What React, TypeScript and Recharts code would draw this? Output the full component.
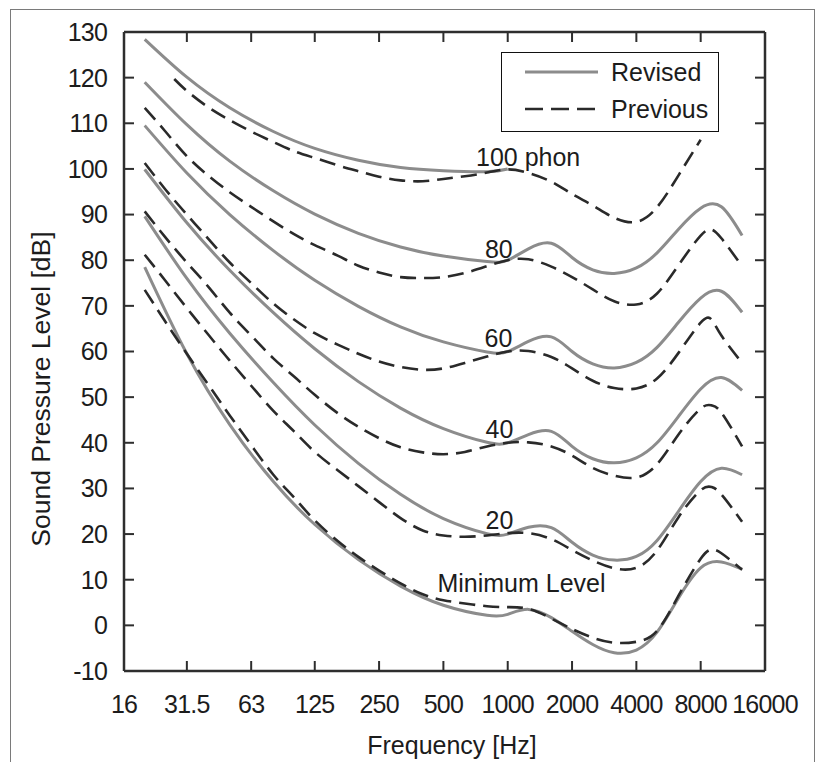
import React from 'react';
import {
  LineChart, Line, XAxis, YAxis, ReferenceLine, ReferenceDot, Legend, Label,
} from 'recharts';

// ---------- tick labels ----------
const FREQ_TICKS = [16, 31.5, 63, 125, 250, 500, 1000, 2000, 4000, 8000, 16000];
const DB_TICKS = [-10, 0, 10, 20, 30, 40, 50, 60, 70, 80, 90, 100, 110, 120, 130];

// ---------- revised (solid) ----------
const REV_FREQS = [20, 31.5, 50, 80, 125, 200, 315, 500, 800, 1000, 1250, 1600, 2000, 2500, 3150, 4000, 5000, 6300, 8000, 10000, 12500];
const REV_MIN = [78.5, 59.5, 44.0, 31.5, 22.1, 14.4, 8.6, 4.4, 2.2, 2.4, 3.5, 1.7, -1.3, -4.2, -6.0, -5.4, -1.5, 6.0, 12.6, 13.9, 12.3];
const REV_20 = [89.6, 76.0, 64.0, 53.2, 43.9, 35.5, 28.7, 23.4, 20.1, 20.0, 21.5, 21.4, 18.2, 15.4, 14.3, 15.1, 18.6, 25.0, 31.5, 34.4, 33.0];
const REV_40 = [99.9, 88.2, 77.8, 68.5, 60.6, 53.4, 47.6, 43.1, 40.1, 40.0, 41.8, 42.5, 39.2, 36.5, 35.6, 36.7, 40.0, 45.8, 51.8, 54.3, 51.5];
const REV_60 = [109.5, 99.1, 90.0, 82.1, 75.6, 69.9, 65.4, 62.1, 59.9, 60.0, 62.2, 63.2, 60.0, 57.3, 56.4, 57.6, 60.9, 66.4, 71.7, 73.2, 68.6];
const REV_80 = [119.0, 109.7, 101.7, 95.2, 90.1, 85.9, 82.9, 80.9, 79.7, 80.0, 82.5, 83.7, 80.6, 77.9, 77.1, 78.3, 81.6, 86.8, 91.4, 91.7, 85.4];
const REV_100 = [128.4, 120.1, 113.4, 108.2, 104.5, 101.9, 100.3, 99.6, 99.4, 100.0];

// ---------- previous (dashed) ----------
const PREV_FREQS = [20, 25, 31.5, 40, 50, 63, 80, 100, 125, 160, 200, 250, 315, 400, 500, 630, 800, 1000, 1250, 1600, 2000, 2500, 3150, 4000, 5000, 6300, 8000, 9000, 10000, 12500];
const PREV_MIN = [73.5, 66.5, 59.5, 52.5, 46, 39.5, 33, 28, 23, 18.5, 15, 12, 9.2, 6.8, 5.5, 4.8, 4.2, 4.0, 3.6, 1.5, -0.8, -2.7, -3.8, -3.6, -1.2, 6.5, 14.6, 16.6, 15.8, 12.2];
const PREV_20 = [81.2, 75.5, 69.5, 63.5, 58, 52.5, 47, 42.5, 38, 34, 30.5, 27, 23.5, 20.8, 19.7, 19.4, 19.7, 20.2, 20.2, 18.9, 16.5, 14.2, 12.5, 12.6, 16.4, 23.7, 29.6, 30.3, 28.7, 22.7];
const PREV_40 = [90.7, 85, 79.5, 74, 68.5, 63.5, 58.5, 54.5, 50.5, 46.5, 43.5, 41, 39, 37.9, 37.5, 38, 39.2, 40, 40.1, 39.2, 37.2, 34.5, 32.8, 32.4, 35.3, 41.8, 47.5, 48.2, 46.6, 39.2];
const PREV_60 = [101.3, 95.5, 90, 84.5, 79.5, 75, 70.5, 67, 64, 61.5, 59.5, 57.8, 56.6, 56.0, 56.3, 57.5, 58.9, 60, 60.1, 58.8, 56.3, 53.6, 52.0, 51.9, 54.1, 59.7, 66.3, 67, 63.5, 57.5];
const PREV_80 = [113.4, 108.2, 102.8, 98.4, 94.9, 91.7, 88.5, 85.7, 83.3, 81.0, 78.8, 77.3, 76.3, 76.1, 76.3, 77.2, 78.7, 80.0, 80.2, 78.6, 76.3, 73.6, 71.0, 70.3, 72.7, 78.9, 85.4, 86.7, 84.8, 78.7];
const PREV_100_FREQS = [27.5, 31.5, 40, 50, 63, 80, 100, 125, 160, 200, 250, 315, 400, 500, 630, 800, 1000, 1250, 1600, 2000, 2500, 3150, 4000, 5000, 6300, 8000];
const PREV_100 = [119.7, 117.1, 113.4, 110.7, 108.2, 105.9, 103.9, 102.4, 100.8, 99.5, 98.3, 97.5, 97.3, 97.8, 98.4, 99.2, 99.9, 99.1, 97.2, 94.5, 92.0, 89.3, 88.4, 91.6, 98.6, 106.4];

// ---------- curve labels ----------
const CURVE_LABEL_TEXT = ['100 phon', '80', '60', '40', '20', 'Minimum Level'];
const CURVE_LABEL_FREQ = [1246, 909, 905, 915, 915, 1160];
const CURVE_LABEL_DB = [102.5, 82.5, 63.0, 42.9, 23.1, 9.3];

const zip = (fs: number[], vs: number[]) => fs.map((f, i) => ({ f, v: vs[i] }));

const revisedSeries = [
  { name: 'rMin', data: zip(REV_FREQS, REV_MIN) },
  { name: 'r20', data: zip(REV_FREQS, REV_20) },
  { name: 'r40', data: zip(REV_FREQS, REV_40) },
  { name: 'r60', data: zip(REV_FREQS, REV_60) },
  { name: 'r80', data: zip(REV_FREQS, REV_80) },
  { name: 'r100', data: zip(REV_FREQS.slice(0, REV_100.length), REV_100) },
];
const previousSeries = [
  { name: 'pMin', data: zip(PREV_FREQS, PREV_MIN) },
  { name: 'p20', data: zip(PREV_FREQS, PREV_20) },
  { name: 'p40', data: zip(PREV_FREQS, PREV_40) },
  { name: 'p60', data: zip(PREV_FREQS, PREV_60) },
  { name: 'p80', data: zip(PREV_FREQS, PREV_80) },
  { name: 'p100', data: zip(PREV_100_FREQS, PREV_100) },
];

// ---------- layout / style ----------
const W = 821;
const H = 762;
const PLOT = { left: 124, right: 765, top: 32, bottom: 671 };
const TICK_LEN = 10;
const AXIS_COLOR = '#2e2e2e';
const TEXT_COLOR = '#1c1c1c';
const FONT = 25;
const TICK_SPACING = -0.8;
const REV_COLOR = '#8c8c8c';
const PREV_COLOR = '#2a2a2a';
const DASH = '16 8';

const XTick = (props: any) => {
  const { x, payload } = props;
  return (
    <g>
      <line x1={x} x2={x} y1={PLOT.bottom} y2={PLOT.bottom - TICK_LEN} stroke={AXIS_COLOR} strokeWidth={2} />
      <line x1={x} x2={x} y1={PLOT.top} y2={PLOT.top + TICK_LEN} stroke={AXIS_COLOR} strokeWidth={2} />
      <text x={x} y={PLOT.bottom + 24} dy="0.71em" textAnchor="middle" fontSize={FONT} letterSpacing={TICK_SPACING} fill={TEXT_COLOR}>
        {String(payload.value)}
      </text>
    </g>
  );
};

const YTick = (props: any) => {
  const { y, payload } = props;
  return (
    <g>
      <line x1={PLOT.left} x2={PLOT.left + TICK_LEN} y1={y} y2={y} stroke={AXIS_COLOR} strokeWidth={2} />
      <line x1={PLOT.right} x2={PLOT.right - TICK_LEN} y1={y} y2={y} stroke={AXIS_COLOR} strokeWidth={2} />
      <text x={PLOT.left - 17} y={y} dy="0.355em" textAnchor="end" fontSize={FONT} letterSpacing={TICK_SPACING} fill={TEXT_COLOR}>
        {payload.value}
      </text>
    </g>
  );
};

const LegendBox = () => (
  <div style={{ width: 218, height: 80, boxSizing: 'border-box', border: '1.5px solid #111', background: '#fff' }}>
    <svg width={215} height={77} style={{ display: 'block' }}>
      <line x1={23} x2={96} y1={19} y2={19} stroke={REV_COLOR} strokeWidth={3} />
      <line x1={23} x2={96} y1={56} y2={56} stroke={PREV_COLOR} strokeWidth={2.6} strokeDasharray="18 8" />
      <text x={109} y={19} dy="0.355em" fontSize={FONT} fill={TEXT_COLOR}>Revised</text>
      <text x={109} y={56} dy="0.355em" fontSize={FONT} fill={TEXT_COLOR}>Previous</text>
    </svg>
  </div>
);

const YTitle = () => {
  const cx = 41;
  const cy = 389;
  return (
    <text x={cx} y={cy} dy="0.355em" transform={`rotate(-90 ${cx} ${cy})`} textAnchor="middle" fontSize={26.5} fill={TEXT_COLOR}>
      Sound Pressure Level [dB]
    </text>
  );
};

const XTitle = () => (
  <text x={452} y={754} textAnchor="middle" fontSize={FONT} fill={TEXT_COLOR}>
    Frequency [Hz]
  </text>
);

export default function App() {
  return (
    <div style={{ position: 'absolute', left: 0, top: 0, width: W, height: H, overflow: 'hidden', background: '#fff', fontFamily: "'Liberation Sans', Arial, sans-serif" }}>
      <div style={{ position: 'absolute', left: 10, top: 9, width: 805, height: 800, boxSizing: 'border-box', border: '1.5px solid #7a7a7a' }} />
      <div style={{ position: 'absolute', left: 0, top: 0 }}>
        <LineChart width={W} height={H} margin={{ top: PLOT.top, right: W - PLOT.right, bottom: 0, left: 0 }}>
          <XAxis
            type="number"
            dataKey="f"
            scale="log"
            domain={[16, 16000]}
            ticks={FREQ_TICKS}
            allowDataOverflow
            interval={0}
            height={H - PLOT.bottom}
            tickSize={0}
            tick={<XTick />}
            axisLine={{ stroke: AXIS_COLOR, strokeWidth: 2.5 }}
          >
            <Label content={<XTitle />} />
          </XAxis>
          <YAxis
            type="number"
            domain={[-10, 130]}
            ticks={DB_TICKS}
            interval={0}
            width={PLOT.left}
            tickSize={0}
            tick={<YTick />}
            axisLine={{ stroke: AXIS_COLOR, strokeWidth: 2.5 }}
          >
            <Label content={<YTitle />} />
          </YAxis>
          <ReferenceLine y={130} stroke={AXIS_COLOR} strokeWidth={2.5} />
          <ReferenceLine x={16000} stroke={AXIS_COLOR} strokeWidth={2.5} />
          {revisedSeries.map((s) => (
            <Line key={s.name} data={s.data} dataKey="v" type="natural" stroke={REV_COLOR} strokeWidth={3} dot={false} activeDot={false} isAnimationActive={false} />
          ))}
          {previousSeries.map((s) => (
            <Line key={s.name} data={s.data} dataKey="v" type="natural" stroke={PREV_COLOR} strokeWidth={2.6} strokeDasharray={DASH} dot={false} activeDot={false} isAnimationActive={false} />
          ))}
          {CURVE_LABEL_TEXT.map((t, i) => (
            <ReferenceDot
              key={t}
              x={CURVE_LABEL_FREQ[i]}
              y={CURVE_LABEL_DB[i]}
              r={0}
              fill="none"
              stroke="none"
              label={{ value: t, position: 'center', fontSize: FONT, fill: TEXT_COLOR }}
            />
          ))}
          <Legend
            layout="horizontal"
            verticalAlign="middle"
            align="center"
            wrapperStyle={{ left: 501, top: 52, width: 218, height: 80 }}
            content={() => <LegendBox />}
          />
        </LineChart>
      </div>
    </div>
  );
}
